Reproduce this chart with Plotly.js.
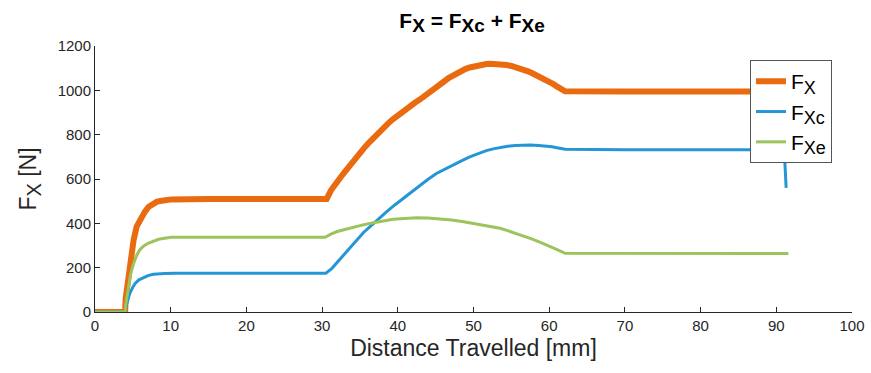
<!DOCTYPE html>
<html>
<head>
<meta charset="utf-8">
<script src="https://cdn.plot.ly/plotly-3.0.1.min.js"></script>
<style>html,body{margin:0;padding:0;background:#fff;}#chart{width:871px;height:373px;}</style>
</head>
<body>
<div id="chart"></div>
<script>
// Distance travelled [mm] and forces [N]
const xFX  = [0, 3.98, 4.05, 4.2, 4.4, 4.6, 4.85, 5.1, 5.5, 6.0, 6.6, 7.1, 7.7, 8.2, 8.8, 9.5, 10.1, 15, 20, 25, 30.6, 31.2, 31.9, 32.5, 33.0, 33.5, 34.1, 34.6, 35.2, 35.7, 36.3, 36.9, 37.5, 38.1, 38.7, 39.3, 39.9, 40.5, 41.1, 41.7, 42.3, 42.9, 43.4, 44.0, 44.5, 45.1, 45.6, 46.2, 46.7, 47.3, 47.8, 48.4, 48.9, 49.5, 50.0, 50.6, 51.1, 51.7, 52.2, 52.8, 53.3, 53.9, 54.4, 55.0, 55.5, 56.1, 56.6, 57.2, 57.7, 58.3, 58.8, 59.4, 59.9, 60.5, 61.0, 61.5, 62.1, 70, 80, 91.3];
const FX   = [0, 0, 60, 100, 150, 210, 295, 325, 385, 420, 453, 475, 490, 498, 502, 506, 508, 510, 510, 510, 510, 550, 588, 610, 632, 655, 678, 700, 724, 746, 768, 790, 810, 830, 850, 868, 885, 900, 915, 930, 945, 958, 972, 986, 1000, 1014, 1028, 1042, 1055, 1067, 1078, 1088, 1096, 1103, 1108, 1113, 1116, 1119, 1120, 1120, 1119, 1117, 1114, 1110, 1106, 1100, 1094, 1086, 1078, 1069, 1060, 1050, 1040, 1029, 1018, 1007, 996, 995, 995, 995];

const xFXc = [0, 3.98, 4.05, 4.2, 4.6, 5.0, 5.3, 5.8, 6.4, 7.0, 7.7, 8.4, 9.2, 10.5, 20, 30.5, 31.3, 32.0, 32.7, 33.4, 34.1, 34.8, 35.5, 36.3, 37.0, 37.7, 38.5, 39.6, 40.7, 41.8, 43.0, 44.0, 45.1, 46.2, 47.3, 48.4, 49.5, 50.6, 51.7, 52.6, 53.5, 54.5, 55.5, 56.5, 57.5, 58.6, 59.7, 60.4, 61.0, 61.6, 62.1, 70, 80, 91.05, 91.3];
const FXc  = [0, 0, 20, 35, 84, 112, 129, 145, 156, 164, 170, 173, 174, 175, 175, 175, 197, 224, 252, 281, 310, 335, 360, 384, 407, 430, 452, 483, 513, 543, 573, 599, 625, 645, 663, 682, 700, 715, 728, 736, 743, 748, 751, 753, 753, 751, 749, 745, 741, 737, 734, 732, 732, 732, 560];

const xFXe = [0, 3.98, 4.05, 4.2, 4.4, 4.7, 5.1, 5.5, 5.9, 6.4, 7.0, 7.7, 8.4, 9.2, 10.1, 20, 30.4, 31.1, 31.9, 33.0, 34.1, 35.4, 36.8, 38.1, 39.4, 40.9, 42.5, 44.0, 45.6, 47.1, 48.7, 50.2, 51.7, 52.6, 53.5, 54.5, 55.5, 56.5, 57.5, 58.6, 59.7, 60.9, 62.1, 70, 80, 91.6];
const FXe  = [0, 0, 30, 60, 114, 170, 219, 255, 280, 297, 310, 320, 328, 333, 337, 337, 337, 350, 362, 372, 382, 393, 403, 411, 418, 422, 425, 424, 421, 415, 407, 398, 388, 383, 378, 367, 356, 344, 332, 317, 302, 284, 265, 264, 264, 264];

const S = (t, px) => '<sub><span style="font-size:' + px + 'px">' + t + '</span></sub>';
const names = ['F' + S('X', 18), 'F' + S('Xc', 18), 'F' + S('Xe', 18)];
const titleText = '<b>F' + S('X', 19) + ' = F' + S('Xc', 19) + ' + F' + S('Xe', 19) + '</b>';
const yTitleText = 'F' + S('X', 20) + ' [N]';
const xTicks = [0, 10, 20, 30, 40, 50, 60, 70, 80, 90, 100];
const yTicks = [0, 200, 400, 600, 800, 1000, 1200];

const traces = [
  {x: xFX, y: FX, name: names[0], mode: 'lines', line: {color: '#ea6a10', width: 6}},
  {x: xFXc, y: FXc, name: names[1], mode: 'lines', line: {color: '#2496d6', width: 3}},
  {x: xFXe, y: FXe, name: names[2], mode: 'lines', line: {color: '#9cc35c', width: 3}}
];

const axisCommon = {
  showgrid: false, zeroline: false, showline: true, linecolor: '#262626', linewidth: 1,
  ticks: 'inside', ticklen: 5, tickcolor: '#262626', mirror: false,
  tickfont: {family: 'Liberation Sans, Arial, sans-serif', size: 15, color: '#262626'}
};

const layout = {
  width: 871, height: 373,
  margin: {l: 95, r: 19, t: 46, b: 61},
  paper_bgcolor: '#fff', plot_bgcolor: '#fff',
  font: {family: 'Liberation Sans, Arial, sans-serif', color: '#262626'},
  title: {text: titleText, x: 0.542, xanchor: 'center', y: 0.945, yanchor: 'middle',
          font: {size: 21, color: '#000', family: 'Liberation Sans, Arial, sans-serif'}},
  xaxis: Object.assign({}, axisCommon, {range: [0, 100], tickvals: xTicks,
          title: {text: 'Distance Travelled [mm]', standoff: 6, font: {size: 23, color: '#262626'}}}),
  yaxis: Object.assign({}, axisCommon, {range: [0, 1200], tickvals: yTicks,
          title: {text: yTitleText, standoff: 14, font: {size: 23, color: '#262626'}}}),
  legend: {x: 0.9736, xanchor: 'right', y: 0.947, yanchor: 'top', bgcolor: '#fff',
           bordercolor: '#555', borderwidth: 1, font: {size: 21, color: '#000'}},
  showlegend: true
};

Plotly.newPlot('chart', traces, layout, {displayModeBar: false, staticPlot: true});
</script>
</body>
</html>
